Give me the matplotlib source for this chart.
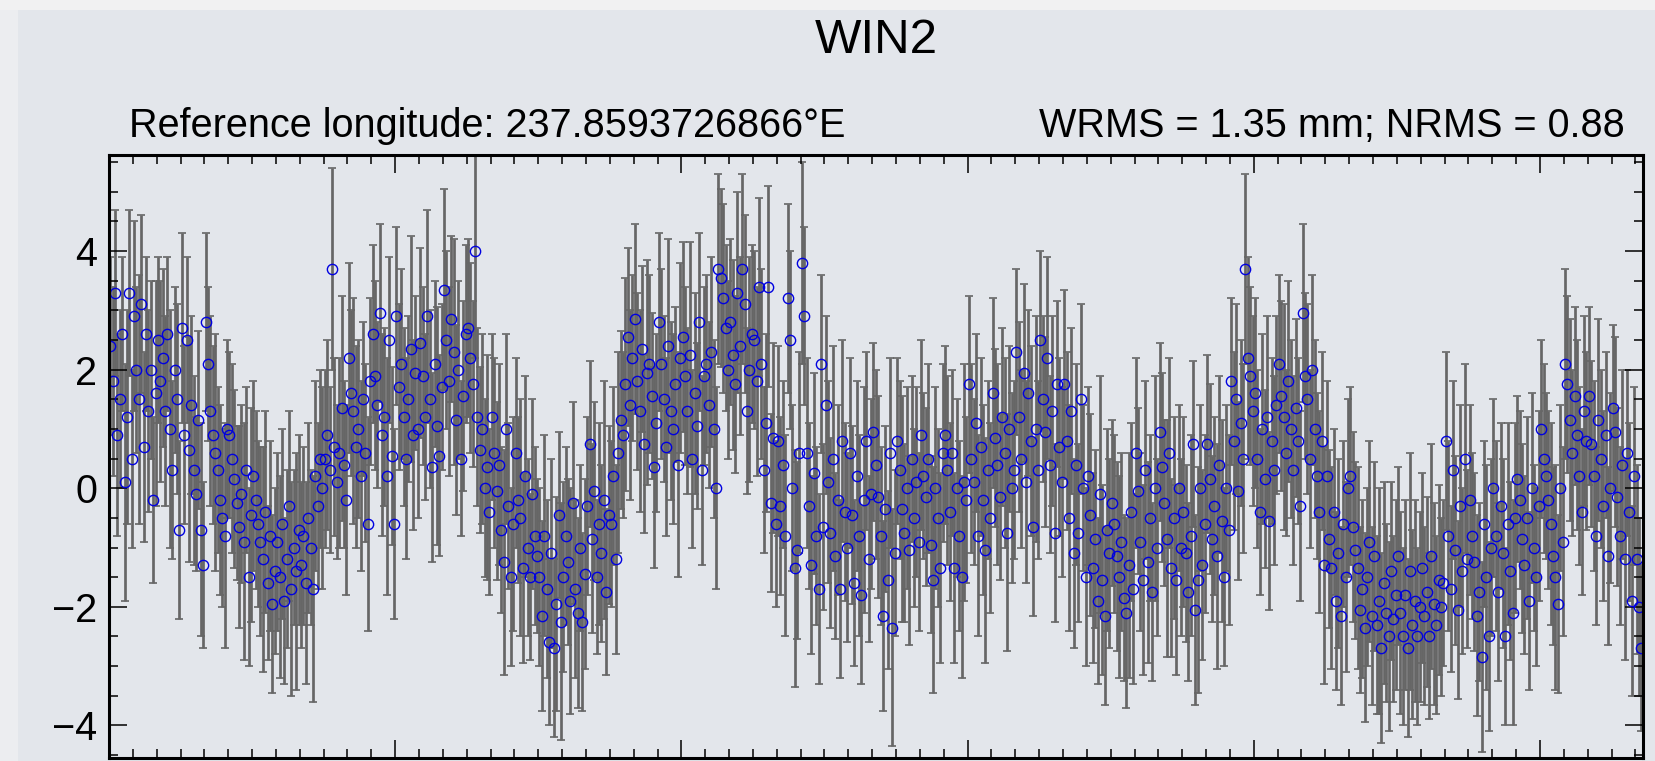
"""WIN2 east residual time series (GPS), error bars + open circles."""

import numpy as np
import matplotlib

matplotlib.use("Agg")

import matplotlib.pyplot as plt
from matplotlib.patches import Rectangle
from matplotlib.ticker import MultipleLocator

plt.rcParams["font.family"] = ["Liberation Sans", "DejaVu Sans"]

STATION = "WIN2"
REF_TEXT = "Reference longitude: 237.8593726866°E"
STATS_TEXT = "WRMS = 1.35 mm; NRMS = 0.88"

START_YEAR = 2012.0
SAMPLES_PER_YEAR = 120  # roughly one solution every 3 days
X_RANGE = (2012.0, 2017.36)
Y_RANGE = (-4.55, 5.62)

# east residuals (mm)
east_2012 = [
    2.4, 1.8, 3.3, 0.9, 1.5, 2.6, 0.1, 1.2, 3.3, 0.5,
    2.9, 2.0, 1.5, 3.1, 0.7, 2.6, 1.3, 2.0, -0.2, 1.6,
    2.5, 1.8, 2.2, 1.3, 2.6, 1.0, 0.3, 2.0, 1.5, -0.7,
    2.7, 0.9, 2.5, 0.65, 1.4, 0.3, -0.1, 1.15, -0.7, -1.3,
    2.8, 2.1, 1.3, 0.9, 0.6, 0.3, -0.2, -0.5, -0.8, 1.0,
    0.9, 0.5, 0.15, -0.25, -0.65, -0.1, -0.9, 0.3, -1.5, -0.45,
    0.2, -0.2, -0.6, -0.9, -1.2, -0.4, -1.6, -0.8, -1.95, -1.4,
    -0.9, -1.5, -0.6, -1.9, -1.2, -0.3, -1.7, -1.0, -1.4, -0.7,
    -1.3, -0.8, -1.6, -0.5, -1.0, -1.7, 0.2, -0.3, 0.5, 0.0,
    0.5, 0.9, 0.3, 3.7, 0.7, 0.1, 0.6, 1.35, 0.4, -0.2,
    2.2, 1.6, 1.3, 0.7, 1.0, 0.2, 1.5, 0.6, -0.6, 1.8,
    2.6, 1.9, 1.4, 2.95, 0.9, 1.2, 0.2, 2.5, 0.55, -0.6,
]
east_2013 = [
    2.9, 1.7, 2.1, 1.2, 0.5, 1.5, 2.35, 0.9, 1.95, 1.0,
    2.45, 1.9, 1.2, 2.9, 1.5, 0.35, 2.1, 1.05, 0.55, 1.7,
    3.35, 2.5, 1.8, 2.85, 2.3, 1.15, 2.0, 0.5, 1.55, 2.6,
    2.7, 2.2, 1.75, 4.0, 1.2, 0.65, 1.0, 0.0, 0.35, -0.4,
    1.2, 0.6, -0.05, 0.4, -0.7, -1.25, 1.0, -0.3, -1.5, -0.6,
    0.6, -0.2, -0.5, -1.35, 0.2, -1.0, -1.5, -0.1, -0.8, -1.15,
    -1.5, -2.15, -0.8, -1.7, -2.6, -1.1, -2.7, -1.95, -0.45, -2.25,
    -1.5, -0.8, -1.25, -1.9, -0.25, -1.7, -2.1, -1.0, -2.25, -1.45,
    -0.3, 0.75, -0.85, -0.05, -1.5, -0.6, -1.1, -0.2, -1.75, -0.45,
    -0.6, 0.2, -1.2, 0.6, 1.15, 0.9, 1.75, 2.55, 1.4, 2.2,
    2.85, 1.8, 1.3, 2.35, 0.75, 1.95, 2.1, 1.55, 0.35, 1.1,
    2.8, 2.1, 1.5, 0.7, 2.4, 1.3, 1.0, 1.75, 0.4, 2.2,
]
east_2014 = [
    2.55, 1.9, 1.3, 2.25, 0.5, 1.6, 1.05, 2.8, 0.3, 1.9,
    2.1, 1.4, 2.3, 1.0, 0.0, 3.7, 3.55, 3.2, 2.7, 2.0,
    2.8, 2.25, 1.75, 3.3, 2.4, 3.7, 3.1, 1.3, 2.0, 2.6,
    2.5, 1.8, 3.4, 2.1, 0.3, 1.1, 3.4, -0.25, 0.85, -0.6,
    0.8, -0.3, 0.4, -0.8, 3.2, 2.5, 0.0, -1.35, -1.05, 0.6,
    3.8, 2.9, 0.6, -0.3, -1.3, 0.25, -0.8, -1.7, 2.1, -0.65,
    1.4, 0.1, -0.75, 0.5, -1.15, -0.2, -1.7, 0.8, -0.4, -1.0,
    0.6, -0.45, -1.6, 0.2, -0.8, -1.8, -0.2, 0.8, -1.2, -0.1,
    0.95, 0.4, -0.15, -0.8, -2.15, -0.35, -1.55, 0.6, -2.35, -1.1,
    0.8, 0.3, -0.35, -0.75, 0.0, -1.05, 0.5, -0.5, 0.1, -0.9,
    0.9, 0.2, -0.15, 0.5, -0.95, -1.55, 0.0, -0.5, -1.35, 0.6,
    0.9, 0.3, -0.4, 0.6, -1.35, 0.0, -0.8, -1.5, 0.1, -0.2,
]
east_2015 = [
    1.75, 0.5, 0.1, 1.1, -0.8, 0.7, -0.2, -1.05, 0.3, -0.5,
    1.6, 0.85, 0.4, -0.15, 1.2, 0.6, -0.75, 1.0, 0.0, 0.3,
    2.3, 1.2, 0.5, 1.95, 0.1, 1.6, 0.8, -0.65, 1.0, 0.3,
    2.5, 1.5, 0.95, 2.2, 0.4, 1.3, -0.75, 1.75, 0.7, 0.1,
    1.75, 0.8, -0.5, 1.3, -1.1, 0.4, -0.75, 1.5, 0.0, -1.5,
    0.2, -0.45, -1.35, -0.85, -1.9, -0.1, -1.55, -2.15, -0.7, -1.1,
    -0.25, -0.6, -1.15, -1.5, -0.9, -1.85, -2.1, -1.3, -0.4, -1.7,
    0.6, -0.05, -0.9, -1.55, 0.3, -1.25, -0.5, -1.75, 0.0, -1.0,
    0.95, 0.35, -0.25, -0.85, 0.6, -1.35, -0.5, -1.55, 0.0, -1.0,
    -0.4, -1.1, -1.75, -0.8, 0.75, -2.05, -1.55, 0.0, -1.3, -0.6,
    0.75, 0.15, -0.85, -0.3, -1.15, 0.4, -0.55, -1.5, 0.0, -0.7,
    1.8, 0.8, 1.5, -0.05, 1.1, 0.5, 3.7, 2.2, 1.9, 1.3,
]
east_2016 = [
    1.6, 0.5, -0.4, 1.0, 0.15, 1.2, -0.55, 0.8, 0.3, 1.4,
    2.1, 1.55, 1.2, 0.6, 1.8, 1.0, 0.3, 1.35, 0.8, -0.3,
    2.95, 1.9, 1.5, 0.5, 2.0, 1.0, 0.2, -0.4, 0.8, -1.3,
    0.2, -0.85, -1.35, -0.4, -1.9, -1.1, -2.15, -0.6, -1.5, 0.0,
    0.2, -0.65, -1.05, -1.35, -2.05, -1.7, -2.35, -1.5, -0.9, -2.15,
    -1.15, -2.3, -1.9, -2.7, -1.6, -2.1, -2.5, -1.4, -2.2, -1.8,
    -1.15, -2.1, -2.5, -1.8, -2.7, -1.4, -2.3, -1.9, -2.5, -2.0,
    -1.35, -2.15, -1.75, -2.5, -1.15, -1.95, -2.3, -1.55, -2.0, -1.6,
    0.8, -0.8, -1.7, 0.3, -1.05, -2.05, -0.3, -1.4, 0.5, -1.2,
    -0.2, -0.8, -1.25, -2.15, -1.75, -2.85, -0.6, -1.5, -2.5, -1.0,
    0.0, -0.8, -1.75, -0.3, -1.1, -2.5, -0.6, -1.4, -2.1, -0.5,
    0.15, -0.2, -0.85, -1.3, -0.5, -1.9, 0.0, -1.0, -1.5, -0.3,
]
east_2017 = [
    1.0, 0.5, 0.2, -0.2, -0.6, -1.15, -1.5, -1.95, 0.0, -0.9,
    2.1, 1.75, 1.15, 0.6, 1.55, 0.9, 0.2, -0.4, 1.3, 0.8,
    1.55, 0.75, 0.2, -0.8, 1.15, 0.5, -0.3, 0.9, -1.15, 0.0,
    1.35, 0.95, -0.15, -0.8, 0.4, -1.2, 0.6, -0.4, -1.9, 0.2,
    -1.2, -2.0, -2.7,
]

# formal 1-sigma uncertainties (mm)
sig_2012 = [
    1.5, 1.6, 1.4, 1.7, 1.5, 1.3, 2.0, 1.8, 1.4, 1.5,
    1.6, 1.4, 2.1, 1.5, 1.6, 1.3, 1.7, 1.5, 1.4, 1.9,
    1.4, 1.7, 1.5, 1.6, 1.3, 2.0, 1.5, 1.4, 1.6, 1.5,
    1.6, 1.5, 1.4, 1.9, 1.5, 1.6, 1.3, 1.5, 1.8, 1.4,
    1.5, 1.3, 1.6, 1.5, 2.0, 1.4, 1.6, 1.5, 1.9, 1.5,
    1.4, 1.6, 1.5, 1.3, 1.7, 1.5, 2.0, 1.4, 1.5, 1.8,
    1.6, 1.5, 1.4, 1.6, 1.9, 1.7, 1.3, 1.6, 1.5, 1.4,
    1.5, 1.7, 1.6, 1.4, 1.5, 1.6, 1.8, 1.3, 2.0, 1.6,
    1.4, 1.5, 1.7, 1.6, 1.3, 1.9, 1.6, 1.4, 1.5, 1.7,
    1.5, 1.6, 1.4, 1.7, 1.5, 1.3, 1.6, 1.9, 1.4, 1.6,
    1.6, 1.4, 1.9, 1.7, 1.5, 1.6, 1.3, 1.5, 1.8, 1.4,
    1.5, 1.6, 1.4, 1.5, 1.7, 1.5, 2.0, 1.4, 1.5, 1.6,
]
sig_2013 = [
    1.5, 1.4, 1.6, 1.5, 1.7, 1.4, 1.9, 1.6, 1.3, 1.5,
    1.6, 1.5, 1.4, 1.8, 1.5, 1.6, 1.4, 2.0, 1.7, 1.4,
    1.7, 1.5, 1.6, 1.4, 1.9, 1.6, 1.5, 1.3, 1.6, 1.5,
    1.5, 1.6, 1.4, 1.8, 1.5, 1.4, 1.6, 1.5, 1.9, 1.4,
    1.4, 1.6, 1.5, 1.7, 1.4, 1.9, 1.6, 1.4, 1.5, 1.8,
    1.6, 1.4, 2.0, 1.6, 1.7, 1.5, 1.4, 1.6, 1.5, 1.3,
    1.5, 1.6, 1.7, 1.5, 1.4, 1.6, 1.5, 1.8, 1.4, 2.0,
    1.6, 1.5, 1.4, 1.9, 1.7, 1.5, 1.6, 1.4, 1.5, 1.6,
    1.5, 1.4, 1.6, 1.5, 1.3, 1.7, 1.5, 2.0, 1.4, 1.5,
    1.4, 1.5, 1.6, 1.7, 1.5, 1.4, 1.8, 1.5, 1.6, 1.4,
    1.6, 1.5, 1.7, 1.4, 1.5, 1.9, 1.5, 1.4, 1.7, 1.5,
    1.5, 1.6, 1.4, 1.5, 1.8, 1.5, 1.6, 1.3, 1.9, 1.6,
]
sig_2014 = [
    1.6, 1.5, 1.4, 1.9, 1.5, 1.7, 1.4, 1.5, 1.6, 1.5,
    1.5, 1.4, 1.6, 1.5, 1.7, 1.6, 1.5, 1.6, 1.4, 1.5,
    1.4, 1.6, 1.5, 1.7, 1.5, 1.6, 1.5, 1.4, 1.9, 1.5,
    1.5, 1.6, 1.5, 1.6, 1.4, 1.5, 1.7, 1.5, 1.6, 1.4,
    1.6, 1.5, 1.4, 1.7, 1.6, 1.5, 1.4, 2.0, 1.5, 1.7,
    1.7, 1.5, 1.6, 1.4, 1.5, 1.7, 1.5, 1.6, 1.5, 1.4,
    1.5, 1.7, 1.6, 1.9, 1.4, 1.6, 1.5, 1.7, 1.5, 1.6,
    1.6, 1.5, 1.4, 1.6, 1.7, 1.5, 1.9, 1.5, 1.4, 1.6,
    1.5, 1.6, 1.7, 1.5, 1.6, 1.4, 1.5, 1.6, 2.0, 1.4,
    1.4, 1.5, 1.9, 1.5, 1.7, 1.6, 1.4, 1.5, 1.6, 1.5,
    1.6, 1.4, 1.5, 1.6, 1.5, 1.9, 1.7, 1.5, 1.6, 1.5,
    1.5, 1.6, 1.5, 1.4, 1.6, 1.5, 1.6, 1.7, 2.0, 1.4,
]
sig_2015 = [
    1.5, 1.6, 1.4, 1.5, 1.7, 1.5, 1.6, 1.9, 1.5, 1.6,
    1.6, 1.5, 1.7, 1.4, 1.5, 1.6, 2.0, 1.4, 1.6, 1.5,
    1.4, 1.6, 1.5, 1.5, 1.7, 1.4, 1.6, 1.5, 1.9, 1.5,
    1.5, 1.4, 1.6, 1.7, 1.5, 1.6, 1.5, 1.4, 1.5, 1.6,
    1.6, 1.5, 1.9, 1.4, 1.6, 1.7, 1.5, 1.6, 1.4, 1.5,
    1.5, 1.7, 1.6, 1.5, 1.4, 2.0, 1.6, 1.5, 1.7, 1.6,
    1.4, 1.5, 1.6, 1.7, 1.5, 1.4, 1.6, 1.9, 1.5, 1.6,
    1.6, 1.4, 1.5, 1.6, 1.5, 1.7, 1.4, 1.5, 1.9, 1.5,
    1.5, 1.6, 1.4, 2.0, 1.6, 1.5, 1.7, 1.6, 1.4, 1.5,
    1.6, 1.5, 1.5, 1.7, 1.4, 1.6, 1.9, 1.4, 1.6, 1.5,
    1.5, 1.6, 1.4, 1.5, 1.9, 1.5, 1.7, 1.5, 1.4, 1.6,
    1.4, 1.5, 1.6, 1.5, 1.4, 1.6, 1.6, 1.7, 1.5, 1.6,
]
sig_2016 = [
    1.6, 1.5, 1.4, 1.6, 1.5, 1.7, 1.5, 1.4, 1.6, 1.5,
    1.5, 1.6, 1.9, 1.4, 1.7, 1.5, 1.6, 1.5, 1.4, 1.6,
    1.5, 1.4, 1.6, 1.5, 1.6, 1.5, 1.4, 1.7, 1.5, 2.0,
    1.6, 1.5, 1.7, 1.4, 1.5, 1.6, 1.5, 1.4, 1.6, 1.5,
    1.5, 1.6, 1.5, 1.7, 1.4, 1.5, 1.6, 1.5, 1.7, 1.5,
    1.6, 1.5, 1.9, 1.6, 1.7, 1.5, 1.6, 1.5, 1.4, 1.6,
    1.5, 1.7, 1.5, 1.6, 1.5, 2.0, 1.6, 1.7, 1.5, 1.6,
    1.6, 1.5, 1.6, 1.4, 1.9, 1.7, 1.5, 1.6, 1.5, 1.4,
    1.5, 1.6, 1.4, 1.5, 1.6, 1.5, 1.7, 1.4, 1.6, 1.5,
    1.6, 1.4, 1.5, 1.7, 1.5, 1.6, 1.4, 1.9, 1.6, 1.5,
    1.5, 1.6, 1.5, 1.4, 1.6, 1.5, 1.7, 1.5, 1.9, 1.6,
    1.4, 1.5, 1.6, 1.5, 1.7, 1.5, 1.6, 1.4, 1.5, 1.6,
]
sig_2017 = [
    1.5, 1.6, 1.4, 1.5, 1.7, 1.5, 1.9, 1.5, 1.4, 1.6,
    1.6, 1.5, 1.7, 1.4, 1.5, 1.6, 1.5, 1.4, 1.6, 1.5,
    1.5, 1.4, 1.6, 1.5, 1.7, 1.5, 1.6, 1.4, 1.5, 1.6,
    1.4, 1.6, 1.5, 1.5, 1.6, 1.7, 1.4, 1.5, 1.6, 1.5,
    1.6, 1.5, 1.4,
]

east = np.concatenate([east_2012, east_2013, east_2014, east_2015, east_2016, east_2017])
sigma = np.concatenate([sig_2012, sig_2013, sig_2014, sig_2015, sig_2016, sig_2017])
# epochs in decimal years, one sample slot every 1/120 yr
epoch = START_YEAR + (np.arange(east.size) + 0.5) / SAMPLES_PER_YEAR

W, H = 1655, 761
fig = plt.figure(figsize=(W / 100, H / 100), dpi=100)
fig.patch.set_facecolor("#E3E6EB")
# lighter slide margins (top strip and left strip)
fig.add_artist(Rectangle((0, 1 - 10 / H), 1, 10 / H, transform=fig.transFigure,
                         facecolor="#F1F1F2", edgecolor="none", zorder=0))
fig.add_artist(Rectangle((0, 0), 18 / W, 1 - 10 / H, transform=fig.transFigure,
                         facecolor="#ECEDF0", edgecolor="none", zorder=0))

ax = fig.add_axes([109 / W, 3 / H, (1643 - 109) / W, (758 - 155) / H])
ax.set_facecolor("none")

ax.errorbar(epoch, east, yerr=sigma, fmt="none", ecolor="#666666",
            elinewidth=1.95, capsize=2.6, capthick=1.2, zorder=1)
ax.plot(epoch, east, "o", ms=7.4, mfc="none", mec="#0000E0", mew=1.0, zorder=2)

ax.set_xlim(*X_RANGE)
ax.set_ylim(*Y_RANGE)
ax.xaxis.set_major_locator(MultipleLocator(1))
ax.xaxis.set_minor_locator(MultipleLocator(1 / 12))
ax.yaxis.set_major_locator(MultipleLocator(2))
ax.yaxis.set_minor_locator(MultipleLocator(0.5))
ax.tick_params(which="both", direction="in", top=True, right=True,
               labelbottom=False, width=1.1, color="black")
ax.tick_params(which="major", length=13, labelsize=28.5, pad=8.5)
ax.tick_params(which="minor", length=6.5)
for spine in ax.spines.values():
    spine.set_linewidth(2.2)

fig.text(876 / W, 1 - 53 / H, STATION, ha="center", va="baseline", fontsize=35.5)
fig.text(129 / W, 1 - 137 / H, REF_TEXT, ha="left", va="baseline", fontsize=28.5)
fig.text(1625 / W, 1 - 137 / H, STATS_TEXT, ha="right", va="baseline", fontsize=28.5)

fig.savefig("out.png", dpi=100, facecolor=fig.get_facecolor())
